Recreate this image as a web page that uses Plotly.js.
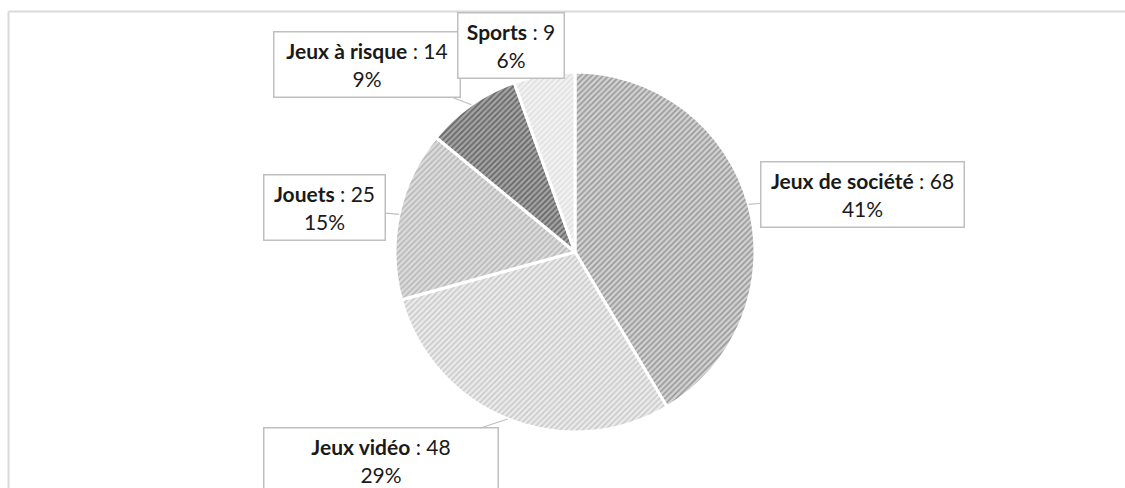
<!DOCTYPE html>
<html>
<head>
<meta charset="utf-8">
<script src="https://cdn.plot.ly/plotly-3.0.1.min.js"></script>
<style>
  html, body { margin: 0; padding: 0; background: #ffffff; }
  #chart { width: 1125px; height: 488px; }
</style>
</head>
<body>
<div id="chart"></div>
<script>
// Répartition des jeux
const categories = ["Jeux de société", "Jeux vidéo", "Jouets", "Jeux à risque", "Sports"];
const counts = [68, 48, 25, 14, 9];
const percentLabels = ["41%", "29%", "15%", "9%", "6%"];

// Slice fills: background tone and stripe tone for each category
const fillColors = ["#d2d2d2", "#ebebeb", "#dcdcdc", "#a4a4a4", "#f2f2f2"];
const stripeColors = ["#5e5e5e", "#a8a8a8", "#929292", "#262626", "#cccccc"];

// Label boxes: offset (px) from the slice's outer edge point to the box centre, and box width
const labelOffsets = [[114, -10], [-127, 42], [-74, -7], [-104, -40], [-33, -29]];
const labelWidths = [196, 227, 114, 179, 99];

const W = 1125, H = 488;
const pieCx = 575, pieCy = 252, pieR = 180;
const domainX = [(pieCx - pieR) / W, (pieCx + pieR) / W];
const domainY = [1 - (pieCy + pieR) / H, 1 - (pieCy - pieR) / H];

const total = counts.reduce((a, b) => a + b, 0);

// Outer edge point at the middle angle of each slice (clockwise from 12 o'clock)
let cum = 0;
const annotations = categories.map((name, i) => {
  const mid = (cum + counts[i] / 2) / total * 2 * Math.PI;
  cum += counts[i];
  const px = pieCx + pieR * Math.sin(mid);
  const py = pieCy - pieR * Math.cos(mid);
  return {
    xref: "paper", yref: "paper",
    x: px / W, y: 1 - py / H,
    ax: labelOffsets[i][0], ay: labelOffsets[i][1],
    showarrow: true, arrowhead: 0, arrowwidth: 1.2, arrowcolor: "#bfbfbf",
    text: "<b>" + name + "</b> : " + counts[i] + "<br>" + percentLabels[i],
    font: { family: "Lato, 'Liberation Sans', sans-serif", size: 21, color: "#1a1a1a" },
    align: "center",
    bgcolor: "#ffffff",
    bordercolor: "#bfbfbf", borderwidth: 1.5, borderpad: 3,
    width: labelWidths[i], height: 58
  };
});

const trace = {
  type: "pie",
  labels: categories,
  values: counts,
  sort: false,
  direction: "clockwise",
  rotation: 0,
  textinfo: "none",
  hoverinfo: "label+value+percent",
  domain: { x: domainX, y: domainY },
  marker: {
    colors: fillColors,
    line: { color: "#ffffff", width: 3 },
    pattern: {
      shape: "/",
      fillmode: "overlay",
      bgcolor: fillColors,
      fgcolor: stripeColors,
      size: 4,
      solidity: 0.4
    }
  }
};

const layout = {
  width: W, height: H,
  margin: { l: 0, r: 0, t: 0, b: 0 },
  paper_bgcolor: "#ffffff",
  showlegend: false,
  annotations: annotations,
  shapes: [
    { type: "line", xref: "paper", yref: "paper", x0: 8.5 / W, x1: 1.01, y0: 1 - 11.5 / H, y1: 1 - 11.5 / H,
      line: { color: "#d9d9d9", width: 2 } },
    { type: "line", xref: "paper", yref: "paper", x0: 8.5 / W, x1: 8.5 / W, y0: -0.02, y1: 1 - 11.5 / H,
      line: { color: "#d9d9d9", width: 2 } }
  ]
};

Plotly.newPlot("chart", [trace], layout, { displayModeBar: false, staticPlot: true });
</script>
</body>
</html>
